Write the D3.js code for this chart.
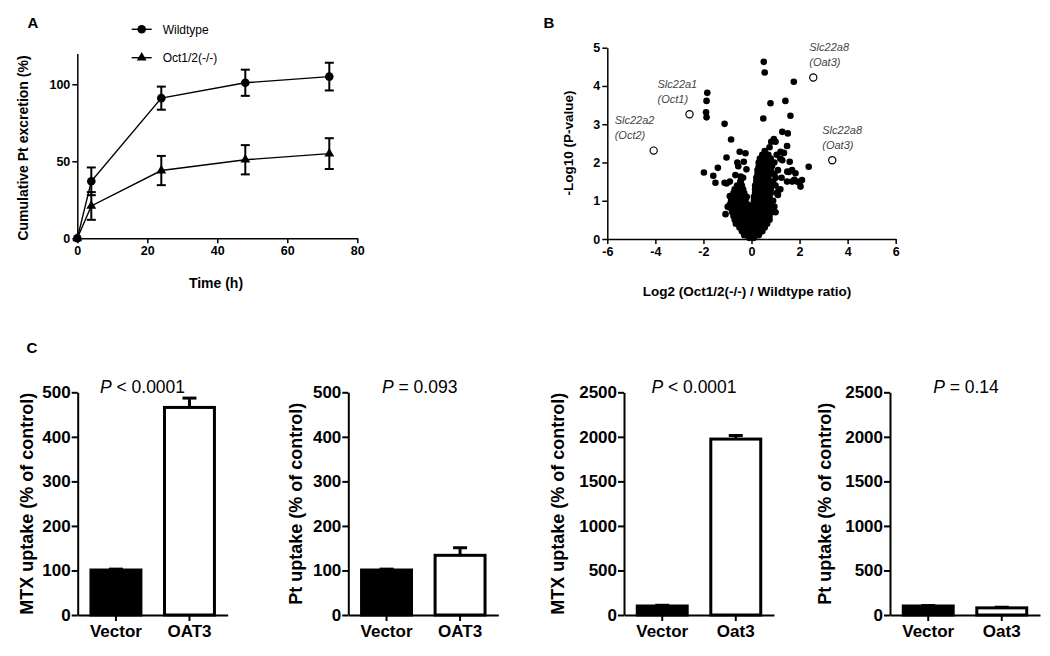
<!DOCTYPE html>
<html><head><meta charset="utf-8">
<script src="https://cdn.jsdelivr.net/npm/d3@7"></script>
<style>
body{margin:0;background:#fff}
svg{display:block}
text{font-family:Arial,"Liberation Sans",sans-serif}
</style>
</head><body>
<svg id="c" width="1050" height="656"></svg>
<script>
// ---------- Panel A data ----------
const timePoints = [0, 4, 24, 48, 72];
const wildtypeMean = [0, 37, 91, 101, 105];
const wildtypeErr  = [0, 9, 7.5, 8.5, 9];
const octMean = [0, 21, 44, 51, 55];
const octErr  = [0, 9, 9.5, 9.5, 10];
const seriesNames = ["Wildtype", "Oct1/2(-/-)"];
const aXTicks = [0, 20, 40, 60, 80];
const aYTicks = [0, 50, 100];

// ---------- Panel B data ----------
const volcanoOutliers = [
  [-1.84,3.82],[-1.87,3.61],[-1.89,3.31],[-1.87,3.18],[-1.12,3.01],[-0.85,2.6],
  [0.51,4.63],[0.55,4.35],[1.76,4.11],[0.79,3.55],[1.41,3.61],[0.49,3.15],[1.62,3.22],
  [1.28,2.8],[1.51,2.76],[0.93,2.61],[0.82,2.54],[1.0,2.54],[1.48,2.43],[1.21,2.28],
  [1.35,2.25],[1.59,2.02],[1.28,2.06],[1.83,1.72],[2.04,1.37],[2.0,1.47],[1.69,1.5],
  [1.69,1.8],[2.38,1.89],[1.78,1.55],[1.55,1.75],[1.2,2.1],[1.05,2.2],[0.75,2.4],[0.7,2.2],
  [1.49,1.76],[1.89,1.5],[2.1,1.54],[1.48,1.5],[1.13,1.28],[1.1,1.15],[0.95,0.85],[1.0,0.7],
  [-0.49,2.28],[-0.25,2.24],[-1.04,2.13],[-0.32,2.02],[-0.21,1.82],[-1.98,1.74],[-1.4,1.86],
  [-1.59,1.65],[-1.5,1.47],[-1.04,1.45],[-0.9,1.5],[-0.67,1.67],[-0.46,1.5],[-0.9,1.12],
  [-1.08,0.65],[-0.99,0.84],[-0.59,2.0],[-0.45,1.63],[-0.55,1.9],[-1.12,1.47]
];
const volcanoCore = [
  [-0.1,0.03],[0,0.03],[0.1,0.03],
  [-0.3,0.1],[-0.15,0.1],[0,0.1],[0.15,0.1],[0.3,0.1],
  [-0.4,0.2],[-0.25,0.2],[-0.1,0.2],[0.05,0.2],[0.2,0.2],[0.35,0.2],[0.45,0.2],
  [-0.5,0.3],[-0.35,0.3],[-0.2,0.3],[-0.05,0.3],[0.1,0.3],[0.25,0.3],[0.4,0.3],[0.55,0.3],
  [-0.65,0.4],[-0.5,0.4],[-0.35,0.4],[-0.2,0.4],[-0.05,0.4],[0.1,0.4],[0.25,0.4],[0.4,0.4],[0.55,0.4],[0.65,0.4],
  [-0.7,0.5],[-0.55,0.5],[-0.4,0.5],[-0.25,0.5],[-0.1,0.5],[0.05,0.5],[0.2,0.5],[0.35,0.5],[0.5,0.5],[0.65,0.5],[0.75,0.5],
  [-0.75,0.6],[-0.6,0.6],[-0.45,0.6],[-0.3,0.6],[-0.15,0.6],[0,0.6],[0.15,0.6],[0.3,0.6],[0.45,0.6],[0.6,0.6],[0.75,0.6],
  [-0.8,0.7],[-0.65,0.7],[-0.5,0.7],[-0.35,0.7],[-0.2,0.7],[-0.05,0.7],[0.1,0.7],[0.25,0.7],[0.4,0.7],[0.55,0.7],[0.7,0.7],[0.85,0.7],
  [-0.85,0.8],[-0.7,0.8],[-0.55,0.8],[-0.4,0.8],[-0.25,0.8],[-0.1,0.8],[0.1,0.8],[0.25,0.8],[0.4,0.8],[0.55,0.8],[0.7,0.8],[0.9,0.8],
  [-0.9,0.9],[-0.75,0.9],[-0.6,0.9],[-0.45,0.9],[-0.3,0.9],[-0.15,0.9],[0.1,0.9],[0.25,0.9],[0.4,0.9],[0.55,0.9],[0.75,0.9],
  [-0.85,1.0],[-0.7,1.0],[-0.55,1.0],[-0.4,1.0],[-0.25,1.0],[0.1,1.0],[0.25,1.0],[0.4,1.0],[0.55,1.0],[0.7,1.0],[0.9,1.0],
  [-0.8,1.1],[-0.65,1.1],[-0.5,1.1],[-0.35,1.1],[-0.2,1.1],[0.1,1.1],[0.25,1.1],[0.4,1.1],[0.55,1.1],[0.75,1.1],
  [-0.75,1.2],[-0.6,1.2],[-0.45,1.2],[-0.3,1.2],[0.15,1.2],[0.3,1.2],[0.45,1.2],[0.6,1.2],[0.8,1.2],[1.05,1.2],
  [-0.7,1.3],[-0.5,1.3],[-0.35,1.3],[0.15,1.3],[0.3,1.3],[0.45,1.3],[0.6,1.3],[0.8,1.3],[1.2,1.3],
  [-0.6,1.4],[-0.4,1.4],[0.15,1.4],[0.3,1.4],[0.45,1.4],[0.6,1.4],[0.85,1.4],[1.0,1.4],
  [-0.45,1.5],[0.2,1.5],[0.35,1.5],[0.5,1.5],[0.65,1.5],[0.9,1.5],
  [-0.35,1.6],[0.2,1.6],[0.35,1.6],[0.5,1.6],[0.7,1.6],[1.0,1.6],[1.25,1.6],
  [0.25,1.7],[0.4,1.7],[0.55,1.7],[0.75,1.7],[0.95,1.7],
  [0.25,1.8],[0.4,1.8],[0.6,1.8],[0.8,1.8],[1.1,1.8],
  [0.3,1.9],[0.45,1.9],[0.65,1.9],[0.85,1.9],
  [0.3,2.0],[0.5,2.0],[0.7,2.0],[0.95,2.0],
  [0.35,2.1],[0.55,2.1],[0.8,2.1],
  [0.45,2.2],[0.65,2.2],
  [0.55,2.3]
];
const highlightedGenes = ["Slc22a2", "Slc22a1", "Slc22a8", "Slc22a8"];
const highlightedProteins = ["(Oct2)", "(Oct1)", "(Oat3)", "(Oat3)"];
const highlightedX = [-4.07, -2.58, 2.57, 3.36];
const highlightedY = [2.31, 3.26, 4.22, 2.06];
const bXTicks = [-6, -4, -2, 0, 2, 4, 6];
const bYTicks = [0, 1, 2, 3, 4, 5];

// ---------- Panel C data ----------
const cCategories = [["Vector","OAT3"],["Vector","OAT3"],["Vector","Oat3"],["Vector","Oat3"]];
const cMeans = [[101,466],[101,134],[101,1975],[101,80]];
const cErrs  = [[2,21],[2,17],[8,40],[5,7]];
const cYTicks = [[0,100,200,300,400,500],[0,100,200,300,400,500],[0,500,1000,1500,2000,2500],[0,500,1000,1500,2000,2500]];
const cYLabels = ["MTX uptake (% of control)","Pt uptake (% of control)","MTX uptake (% of control)","Pt uptake (% of control)"];
const cPOps = ["<", "=", "<", "="];
const cPVals = ["0.0001", "0.093", "0.0001", "0.14"];

// ================= drawing =================
const svg = d3.select("#c");
const plainFmt = d => String(d);
function styleAxis(g, sw, fs) {
  g.selectAll("path,line").attr("stroke", "#000").attr("stroke-width", sw);
  g.selectAll("text").attr("fill", "#000").style("font-size", fs + "px").style("font-weight", "bold")
    .style("font-family", 'Arial,"Liberation Sans",sans-serif');
}

// ---------- Panel A ----------
const ax = d3.scaleLinear().domain([0, 80]).range([77.3, 357.3]);
const ay = d3.scaleLinear().domain([0, 120]).range([238.3, 53.5]);
const gA = svg.append("g");
gA.append("text").attr("x", 33).attr("y", 28).attr("text-anchor", "middle")
  .style("font-size", "15px").style("font-weight", "bold").text("A");
const gAx = gA.append("g").attr("transform", `translate(0,${ay(0)})`)
  .call(d3.axisBottom(ax).tickValues(aXTicks).tickFormat(plainFmt).tickSize(5).tickSizeOuter(0).tickPadding(3));
styleAxis(gAx, 1.5, 12.5);
const gAy = gA.append("g").attr("transform", `translate(${ax(0)},0)`)
  .call(d3.axisLeft(ay).tickValues(aYTicks).tickFormat(plainFmt).tickSize(5).tickSizeOuter(0).tickPadding(2));
styleAxis(gAy, 1.5, 12.5);
gA.append("text").attr("x", 216).attr("y", 288).attr("text-anchor", "middle")
  .style("font-size", "14px").style("font-weight", "bold").text("Time (h)");
gA.append("text").attr("transform", "translate(28,148) rotate(-90)").attr("text-anchor", "middle")
  .style("font-size", "14px").style("font-weight", "bold").text("Cumulative Pt excretion (%)");

const aSeries = [
  {name: seriesNames[0], mean: wildtypeMean, err: wildtypeErr, sym: d3.symbolCircle, size: 58},
  {name: seriesNames[1], mean: octMean, err: octErr, sym: d3.symbolTriangle, size: 42}
];
const lineA = d3.line().x((d, i) => ax(timePoints[i])).y(d => ay(d));
aSeries.forEach((s, si) => {
  gA.append("path").datum(s.mean).attr("d", lineA).attr("fill", "none").attr("stroke", "#000").attr("stroke-width", 1.4);
  s.mean.forEach((m, i) => {
    const e = s.err[i];
    if (e > 0) {
      const x = ax(timePoints[i]);
      gA.append("line").attr("x1", x).attr("x2", x).attr("y1", ay(m - e)).attr("y2", ay(m + e)).attr("stroke", "#000").attr("stroke-width", 2);
      [m - e, m + e].forEach(v => gA.append("line").attr("x1", x - 4.5).attr("x2", x + 4.5).attr("y1", ay(v)).attr("y2", ay(v)).attr("stroke", "#000").attr("stroke-width", 2));
    }
    gA.append("path").attr("d", d3.symbol(s.sym, s.size)()).attr("transform", `translate(${ax(timePoints[i])},${ay(m)})`).attr("fill", "#000");
  });
  // legend
  const ly = 29.3 + si * 28.4;
  gA.append("line").attr("x1", 131.7).attr("x2", 151.7).attr("y1", ly).attr("y2", ly).attr("stroke", "#000").attr("stroke-width", 1.4);
  gA.append("path").attr("d", d3.symbol(s.sym, s.size)()).attr("transform", `translate(141.7,${ly})`).attr("fill", "#000");
  gA.append("text").attr("x", 162.7).attr("y", ly).attr("dy", "0.35em").style("font-size", "12px").text(s.name);
});

// ---------- Panel B ----------
const bx = d3.scaleLinear().domain([-6, 6]).range([607.3, 895.7]);
const by = d3.scaleLinear().domain([0, 5]).range([239, 47.7]);
const gB = svg.append("g");
gB.append("text").attr("x", 549).attr("y", 28).attr("text-anchor", "middle")
  .style("font-size", "15px").style("font-weight", "bold").text("B");
const gBx = gB.append("g").attr("transform", `translate(0,${by(0)})`)
  .call(d3.axisBottom(bx).tickValues(bXTicks).tickFormat(plainFmt).tickSize(5).tickSizeOuter(0).tickPadding(3));
styleAxis(gBx, 1.5, 12.5);
const gBy = gB.append("g").attr("transform", `translate(${bx(-6)},0)`)
  .call(d3.axisLeft(by).tickValues(bYTicks).tickFormat(plainFmt).tickSize(5).tickSizeOuter(0).tickPadding(2));
styleAxis(gBy, 1.5, 12.5);
gB.append("text").attr("x", 747).attr("y", 296).attr("text-anchor", "middle")
  .style("font-size", "13.5px").style("font-weight", "bold").text("Log2 (Oct1/2(-/-) / Wildtype ratio)");
gB.append("text").attr("transform", "translate(573,143) rotate(-90)").attr("text-anchor", "middle")
  .style("font-size", "13.5px").style("font-weight", "bold").text("-Log10 (P-value)");
gB.append("g").selectAll("circle").data(volcanoCore.concat(volcanoOutliers)).join("circle")
  .attr("cx", d => bx(d[0])).attr("cy", d => by(d[1])).attr("r", 3.3).attr("fill", "#000");
highlightedGenes.forEach((g, i) => {
  const cx = bx(highlightedX[i]), cy = by(highlightedY[i]);
  gB.append("circle").attr("cx", cx).attr("cy", cy).attr("r", 3.6).attr("fill", "#fff").attr("stroke", "#000").attr("stroke-width", 1.2);
});
const labelDx = [-39, -32, -4, -10];
highlightedGenes.forEach((g, i) => {
  const cx = bx(highlightedX[i]), cy = by(highlightedY[i]);
  gB.append("text").attr("x", cx + labelDx[i]).attr("y", cy - 30).attr("dy", "0.35em")
    .style("font-size", "11px").style("font-style", "italic").attr("fill", "#444").text(g);
  gB.append("text").attr("x", cx + labelDx[i]).attr("y", cy - 15).attr("dy", "0.35em")
    .style("font-size", "11px").style("font-style", "italic").attr("fill", "#444").text(highlightedProteins[i]);
});

// ---------- Panel C ----------
const cAxisX = [77.7, 348.3, 624, 890];
const cWidth = 150;
const cY0 = 615, cY1 = 392.3;
const cPx = [142.5, 419.7, 694, 966];
svg.append("text").attr("x", 32).attr("y", 353).attr("text-anchor", "middle")
  .style("font-size", "15px").style("font-weight", "bold").text("C");
const cTitleDx = [51, 53, 66, 65];
cCategories.forEach((cats, k) => {
  const g = svg.append("g");
  const x0 = cAxisX[k];
  const x = d3.scaleBand().domain(cats).range([x0, x0 + cWidth]).paddingInner(0.28).paddingOuter(0.16);
  const yMax = cYTicks[k][cYTicks[k].length - 1];
  const y = d3.scaleLinear().domain([0, yMax]).range([cY0, cY1]);
  cats.forEach((c, i) => {
    const cx = x(c) + x.bandwidth() / 2;
    const top = cMeans[k][i] + cErrs[k][i];
    g.append("line").attr("x1", cx).attr("x2", cx).attr("y1", y(cMeans[k][i])).attr("y2", y(top)).attr("stroke", "#000").attr("stroke-width", 3);
    g.append("line").attr("x1", cx - 7).attr("x2", cx + 7).attr("y1", y(top)).attr("y2", y(top)).attr("stroke", "#000").attr("stroke-width", 3);
  });
  g.selectAll("rect").data(cats).join("rect")
    .attr("x", d => x(d) + 1.5).attr("width", x.bandwidth() - 3)
    .attr("y", (d, i) => y(cMeans[k][i]))
    .attr("height", (d, i) => cY0 - y(cMeans[k][i]))
    .attr("fill", (d, i) => i === 0 ? "#000" : "#fff")
    .attr("stroke", "#000").attr("stroke-width", 3);
  const gx = g.append("g").attr("transform", `translate(0,${cY0})`)
    .call(d3.axisBottom(x).tickSize(6).tickSizeOuter(0).tickPadding(4));
  styleAxis(gx, 2, 17);
  const gy = g.append("g").attr("transform", `translate(${x0},0)`)
    .call(d3.axisLeft(y).tickValues(cYTicks[k]).tickSize(6).tickSizeOuter(0).tickPadding(1).tickFormat(plainFmt));
  styleAxis(gy, 2, 17);
  g.append("text").attr("transform", `translate(${x0 - cTitleDx[k]},${(cY0 + cY1) / 2}) rotate(-90)`)
    .attr("text-anchor", "middle").attr("dy", "0.35em")
    .style("font-size", "18px").style("font-weight", "bold").text(cYLabels[k]);
  const pt = g.append("text").attr("x", cPx[k]).attr("y", 387).attr("dy", "0.35em").attr("text-anchor", "middle")
    .style("font-size", "17.5px");
  pt.append("tspan").style("font-style", "italic").text("P");
  pt.append("tspan").text(" " + cPOps[k] + " " + cPVals[k]);
});
</script>
</body></html>
